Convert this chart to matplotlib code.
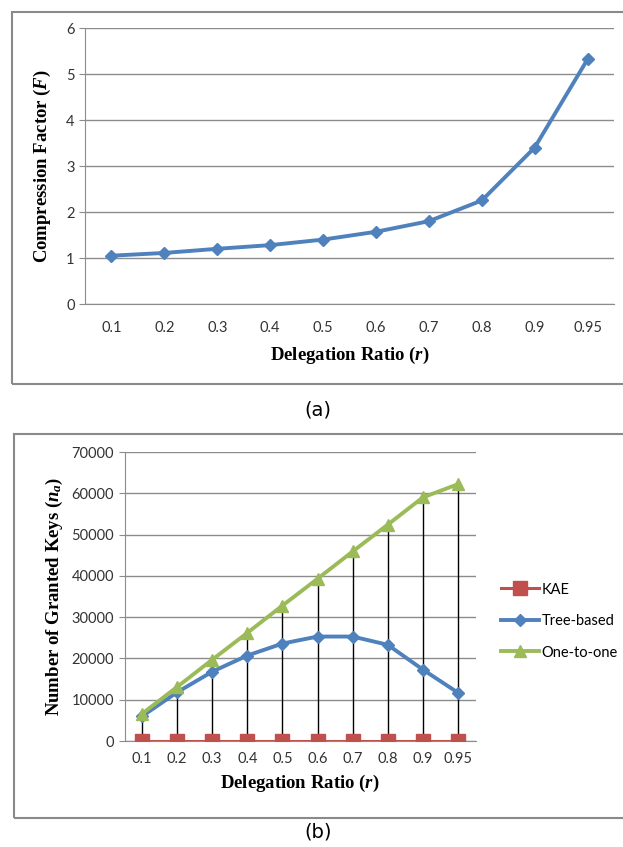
import matplotlib
matplotlib.use("Agg")
import matplotlib.pyplot as plt
from matplotlib.patches import Rectangle
import numpy as np

# Data
ratios = ["0.1", "0.2", "0.3", "0.4", "0.5", "0.6", "0.7", "0.8", "0.9", "0.95"]
compression = [1.05, 1.11, 1.20, 1.28, 1.40, 1.57, 1.80, 2.25, 3.40, 5.32]
kae = [0, 0, 0, 0, 0, 0, 0, 0, 0, 0]
tree_based = [6000, 11800, 16800, 20700, 23600, 25300, 25300, 23300, 17300, 11700]
one_to_one = [6600, 13100, 19700, 26200, 32800, 39300, 45900, 52400, 59000, 62200]
y1_ticks = [0, 1, 2, 3, 4, 5, 6]
y2_ticks = [0, 10000, 20000, 30000, 40000, 50000, 60000, 70000]

plt.rcParams["mathtext.fontset"] = "custom"
plt.rcParams["mathtext.it"] = "Liberation Serif:italic:bold"
plt.rcParams["mathtext.rm"] = "Liberation Serif:bold"

W, H = 623, 847
fig = plt.figure(figsize=(W / 100, H / 100), dpi=100)

BLUE = "#4F81BD"
RED = "#C0504D"
GREEN = "#9BBB59"
GRID = "#8c8c8c"
TICKFONT = "Lato"
LABELFONT = "Liberation Serif"

def fx(px):
    return px / W

def fy(py):
    return 1 - py / H

# borders
fig.patches.append(Rectangle((fx(12), fy(384)), fx(640) - fx(12), fy(12) - fy(384),
                             transform=fig.transFigure, fill=False, edgecolor="#8a8a8a", lw=1.5))
fig.patches.append(Rectangle((fx(14), fy(818)), fx(640) - fx(14), fy(434) - fy(818),
                             transform=fig.transFigure, fill=False, edgecolor="#8a8a8a", lw=1.5))

x = np.arange(len(ratios))

def style(ax, yticks):
    for s in ["top", "right"]:
        ax.spines[s].set_visible(False)
    ax.spines["left"].set_color(GRID)
    ax.spines["bottom"].set_color(GRID)
    ax.set_yticks(yticks)
    ax.yaxis.grid(True, color=GRID, lw=1)
    ax.set_axisbelow(True)
    ax.set_xticks(x)
    ax.set_xticklabels(ratios, fontfamily=TICKFONT, fontsize=10.5, color="#333333")
    ax.tick_params(axis="x", length=0, pad=12)
    ax.tick_params(axis="y", length=4, color=GRID, labelsize=10.5, labelcolor="#333333")
    for lab in ax.get_yticklabels():
        lab.set_fontfamily(TICKFONT)
    ax.set_xlim(-0.5, len(ratios) - 0.5)

LABEL_KW = dict(fontfamily=LABELFONT, fontweight="bold", fontsize=13.5)

# Top chart
ax1 = fig.add_axes([fx(85), fy(304), fx(614) - fx(85), fy(28) - fy(304)])
ax1.plot(x, compression, color=BLUE, lw=2.8, marker="D", ms=6.5, mfc=BLUE, mec=BLUE)
ax1.set_ylim(0, 6)
style(ax1, y1_ticks)
ax1.set_xlabel("Delegation Ratio ($\\mathit{r}$)", labelpad=7, **LABEL_KW)
ax1.set_ylabel("Compression Factor ($\\mathit{F}$)", labelpad=9, **LABEL_KW)
fig.text(fx(318), fy(410), "(a)", ha="center", va="center", fontsize=14, fontfamily="DejaVu Sans")

# Bottom chart
ax2 = fig.add_axes([fx(124.5), fy(741), fx(475.5) - fx(124.5), fy(452) - fy(741)])
ax2.vlines(x, 0, one_to_one, color="black", lw=1, zorder=1)
ax2.plot(x, kae, color=RED, lw=2.2, marker="s", ms=9.5, label="KAE", zorder=3)
ax2.plot(x, tree_based, color=BLUE, lw=2.8, marker="D", ms=6, label="Tree-based", zorder=3)
ax2.plot(x, one_to_one, color=GREEN, lw=2.8, marker="^", ms=9, label="One-to-one", zorder=3)
ax2.set_ylim(0, 70000)
style(ax2, y2_ticks)
ax2.tick_params(axis="x", pad=8)
ax2.set_xlabel("Delegation Ratio ($\\mathit{r}$)", labelpad=5, **LABEL_KW)
ax2.set_ylabel("Number of Granted Keys ($\\mathit{n}_a$)", labelpad=5, **LABEL_KW)
leg = ax2.legend(loc="center left", bbox_to_anchor=(fx(495), fy(621)), bbox_transform=fig.transFigure,
                 frameon=False, prop={"family": TICKFONT, "size": 10.5}, handlelength=2.6,
                 handletextpad=0.2, labelspacing=1.2, borderaxespad=0)
fig.text(fx(318), fy(832), "(b)", ha="center", va="center", fontsize=14, fontfamily="DejaVu Sans")

fig.savefig("out.png", dpi=100)
